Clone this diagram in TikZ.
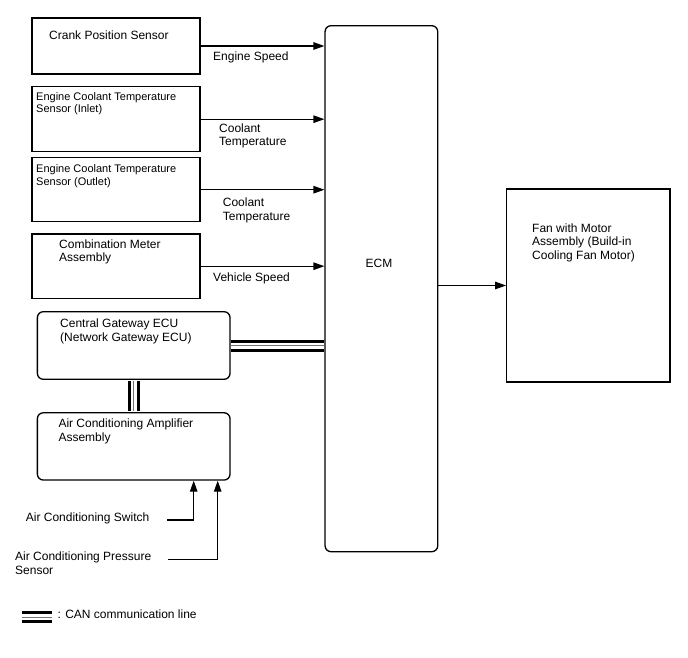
\documentclass[tikz,border=0pt]{standalone}
\usepackage{fontspec}
\setmainfont{Liberation Sans}
\usetikzlibrary{arrows.meta}

\begin{document}
\begin{tikzpicture}[x=1pt,y=-1pt,
  box/.style={draw,line width=1.3pt,inner sep=0pt},
  rbox/.style={box,rounded corners=6pt},
  txt/.style={anchor=base west,inner sep=0pt,align=left,font=\fontsize{12}{13.7}\selectfont},
  smalltxt/.style={txt,font=\fontsize{11}{12.5}\selectfont},
  sig/.style={line width=1.2pt,-{Triangle[length=11pt,width=7.5pt]}},
  can/.style={line width=12pt,postaction={draw=white,line width=6pt},postaction={draw=black!55,line width=0.9pt}}]
\useasboundingbox (0,0) rectangle (688,658);
\node[box,minimum width=168,minimum height=56] (crank) at (116,46) {};
\node[box,minimum width=168,minimum height=65] (ectin) at (116,119.2) {};
\node[box,minimum width=168,minimum height=64] (ectout) at (116,189.7) {};
\node[box,minimum width=168,minimum height=64.3] (meter) at (116,266.2) {};
\node[rbox,minimum width=192.7,minimum height=67.6] (gw) at (133.7,345.5) {};
\node[rbox,minimum width=192.7,minimum height=67.3] (amp) at (133.7,446.4) {};
\node[rbox,minimum width=112.7,minimum height=526] (ecm) at (381.4,288.7) {};
\node[box,minimum width=163.3,minimum height=193] (fan) at (588.4,285.5) {};
\node[txt] (crank-lbl) at (49,39.5) {Crank Position Sensor};
\node[smalltxt] (ectin-lbl) at (36,113) {Engine Coolant Temperature\\Sensor (Inlet)};
\node[smalltxt] (ectout-lbl) at (36,185) {Engine Coolant Temperature\\Sensor (Outlet)};
\node[txt] (meter-lbl) at (59,261.7) {Combination Meter\\Assembly};
\node[txt] (gw-lbl) at (60,341) {Central Gateway ECU\\(Network Gateway ECU)};
\node[txt] (amp-lbl) at (58.3,441) {Air Conditioning Amplifier\\Assembly};
\node[txt] (fan-lbl) at (532,259.5) {Fan with Motor\\Assembly (Build-in\\Cooling Fan Motor)};
\node[font=\fontsize{12}{13.7}\selectfont,inner sep=0pt] (ecm-lbl) at (379,263) {ECM};
\node[txt] (spd) at (213,61) {Engine Speed};
\node[txt] (temp1) at (219,145.7) {Coolant\\Temperature};
\node[txt] (temp2) at (222.7,220) {Coolant\\Temperature};
\node[txt] (vspd) at (213,281.7) {Vehicle Speed};
\node[txt] (acsw-lbl) at (25.7,521.7) {Air Conditioning Switch};
\node[txt] (acps-lbl) at (15,574) {Air Conditioning Pressure\\Sensor};
\node[txt] (leg-lbl) at (57.3,618.3) {: CAN communication line};
\coordinate (acsw) at (167,520);
\coordinate (acps) at (168,559.3);
\coordinate (leg1) at (22,617);
\coordinate (leg2) at (52,617);
\draw[sig] (crank.east) -- (crank.east -| ecm.west);
\draw[sig] (ectin.east) -- (ectin.east -| ecm.west);
\draw[sig] (ectout.east) -- (ectout.east -| ecm.west);
\draw[sig] (meter.east) -- (meter.east -| ecm.west);
\draw[sig] (ecm.east |- fan.west) -- (fan.west);
\draw[sig] (acsw) -| ([xshift=-37]amp.south east);
\draw[sig] (acps) -| ([xshift=-13]amp.south east);
\draw[can] ([xshift=0.65]gw.east) -- ([xshift=-0.65]gw.east -| ecm.west);
\draw[can] ([yshift=-0.65]gw.south) -- ([yshift=0.65]amp.north);
\draw[can] (leg1) -- (leg2);
\end{tikzpicture}
\end{document}
